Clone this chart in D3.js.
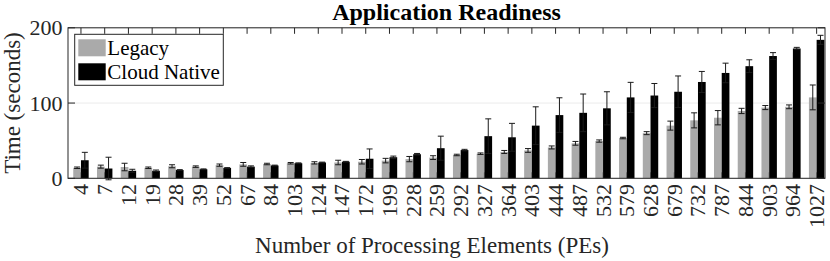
<!DOCTYPE html>
<html>
<head>
<meta charset="utf-8">
<script src="https://cdn.jsdelivr.net/npm/d3@7"></script>
<style>
  html, body { margin: 0; padding: 0; background: #fff; }
  svg { display: block; font-family: "Liberation Serif", "Times New Roman", serif; }
</style>
</head>
<body>
<svg id="chart" width="830" height="261"></svg>
<script>
const categories = [4,7,12,19,28,39,52,67,84,103,124,147,172,199,228,259,292,327,364,403,444,487,532,579,628,679,732,787,844,903,964,1027];
const seriesNames = ["Legacy", "Cloud Native"];
const legacy    = [14, 15.5, 15, 14, 16, 15.5, 17.5, 18.5, 19, 20, 20.5, 21, 22, 23.5, 25.5, 27.5, 31, 32.7, 35, 37, 41, 46.5, 49.5, 53.5, 60, 70, 77, 80.5, 89.5, 94, 95, 107.5];
const legacyErr = [1, 2, 5, 1, 2, 1, 1.5, 2.5, 1, 1, 1.5, 3, 3, 3, 3.5, 2.5, 1, 1, 2, 2.5, 2, 2.5, 1.5, 1, 2, 6, 10, 9.5, 3.5, 2.7, 2.5, 16.5];
const native    = [24, 13, 10, 10, 11, 12, 13.7, 15.5, 17, 20, 21, 22, 26, 28, 32, 40, 37.5, 56, 54.5, 70, 84, 87, 93, 107.5, 110, 115, 128, 140, 149, 162.5, 172.5, 184];
const nativeErr = [10.5, 15, 2, 1, 0.5, 0.5, 0.5, 1, 0.5, 0.5, 0.5, 0.5, 13, 1.5, 1, 16, 1, 23, 18.5, 25, 23, 25, 22, 20, 16, 21, 14, 13, 8.5, 4.5, 1.5, 6];
const yTicks = [0, 100, 200];
const colors = {"Legacy": "#aaaaaa", "Cloud Native": "#000000"};

const svg = d3.select("#chart");
const frame = {left: 68, right: 825, top: 27.8, bottom: 178.3};
const axisColor = "#262626";

const x = d3.scaleBand().domain(categories).range([69.1, 828.5]).padding(0);
const xSub = d3.scaleBand().domain(seriesNames)
  .range([x.bandwidth() * 0.175, x.bandwidth() * 0.825]).padding(0);
const y = d3.scaleLinear().domain([0, 200]).range([frame.bottom, frame.top]);

const rows = categories.map((c, i) => ({
  cat: c,
  values: [
    {name: "Legacy", v: legacy[i], e: legacyErr[i]},
    {name: "Cloud Native", v: native[i], e: nativeErr[i]}
  ]
}));

// grid
svg.append("g").selectAll("line").data(yTicks).join("line")
  .attr("x1", frame.left).attr("x2", frame.right)
  .attr("y1", d => y(d)).attr("y2", d => y(d))
  .attr("stroke", "#ebebeb").attr("stroke-width", 1);

// bars
const groups = svg.append("g").selectAll("g").data(rows).join("g")
  .attr("transform", d => `translate(${x(d.cat)},0)`);
groups.selectAll("rect").data(d => d.values).join("rect")
  .attr("x", d => xSub(d.name))
  .attr("width", xSub.bandwidth())
  .attr("y", d => y(d.v))
  .attr("height", d => y(0) - y(d.v))
  .attr("fill", d => colors[d.name]);

// error bars
const eb = groups.selectAll("g.err").data(d => d.values).join("g").attr("class", "err")
  .attr("transform", d => `translate(${xSub(d.name) + xSub.bandwidth() / 2},0)`);
eb.append("line")
  .attr("x1", 0).attr("x2", 0)
  .attr("y1", d => y(d.v - d.e)).attr("y2", d => y(d.v + d.e))
  .attr("stroke", "#1a1a1a").attr("stroke-width", 1);
eb.append("line")
  .attr("x1", -3).attr("x2", 3)
  .attr("y1", d => y(d.v + d.e)).attr("y2", d => y(d.v + d.e))
  .attr("stroke", "#1a1a1a").attr("stroke-width", 1);
eb.append("line")
  .attr("x1", -3).attr("x2", 3)
  .attr("y1", d => y(d.v - d.e)).attr("y2", d => y(d.v - d.e))
  .attr("stroke", "#1a1a1a").attr("stroke-width", 1);

// frame
svg.append("rect")
  .attr("x", frame.left).attr("y", frame.top)
  .attr("width", frame.right - frame.left).attr("height", frame.bottom - frame.top)
  .attr("fill", "none").attr("stroke", axisColor).attr("stroke-width", 1);

// top & bottom ticks
svg.append("g").selectAll("line").data(categories).join("line")
  .attr("x1", c => x(c) + x.bandwidth() / 2).attr("x2", c => x(c) + x.bandwidth() / 2)
  .attr("y1", frame.top).attr("y2", frame.top + 6)
  .attr("stroke", axisColor);
svg.append("g").selectAll("line").data(categories).join("line")
  .attr("x1", c => x(c) + x.bandwidth() / 2).attr("x2", c => x(c) + x.bandwidth() / 2)
  .attr("y1", frame.bottom).attr("y2", frame.bottom - 6)
  .attr("stroke", axisColor).attr("stroke-opacity", 0.5);

// left & right ticks
svg.append("g").selectAll("line").data(yTicks).join("line")
  .attr("x1", frame.left).attr("x2", frame.left + 7)
  .attr("y1", d => y(d)).attr("y2", d => y(d)).attr("stroke", axisColor);
svg.append("g").selectAll("line").data(yTicks).join("line")
  .attr("x1", frame.right).attr("x2", frame.right - 7)
  .attr("y1", d => y(d)).attr("y2", d => y(d)).attr("stroke", axisColor);

// y tick labels
svg.append("g").selectAll("text").data(yTicks).join("text")
  .attr("x", 62.5).attr("y", d => y(d)).attr("dy", "0.34em")
  .attr("text-anchor", "end").attr("font-size", 22).attr("fill", axisColor)
  .text(d => d);

// x tick labels (rotated)
svg.append("g").selectAll("text").data(categories).join("text")
  .attr("transform", c => `translate(${x(c) + x.bandwidth() / 2},184) rotate(-90)`)
  .attr("dy", "0.34em")
  .attr("text-anchor", "end").attr("font-size", 22).attr("fill", axisColor)
  .text(c => c);

// axis titles
svg.append("text")
  .attr("x", 432).attr("y", 253)
  .attr("text-anchor", "middle").attr("font-size", 23).attr("fill", axisColor)
  .text("Number of Processing Elements (PEs)");
svg.append("text")
  .attr("transform", `translate(20,${(frame.top + frame.bottom) / 2}) rotate(-90)`)
  .attr("text-anchor", "middle").attr("font-size", 23).attr("fill", axisColor)
  .text("Time (seconds)");
svg.append("text")
  .attr("x", (frame.left + frame.right) / 2).attr("y", 20)
  .attr("text-anchor", "middle").attr("font-size", 24).attr("font-weight", "bold")
  .attr("fill", "#000")
  .text("Application Readiness");

// legend
const lg = svg.append("g");
lg.append("rect").attr("x", 74.7).attr("y", 34.3).attr("width", 148.6).attr("height", 51)
  .attr("fill", "#fff").attr("stroke", axisColor).attr("stroke-width", 1);
const items = lg.selectAll("g").data(seriesNames).join("g")
  .attr("transform", (d, i) => `translate(78.3,${39.3 + i * 24})`);
items.append("rect").attr("width", 27.4).attr("height", 17).attr("fill", d => colors[d]);
items.append("text").attr("x", 29).attr("y", 8.5).attr("dy", "0.34em")
  .attr("font-size", 21).attr("fill", "#000").text(d => d);
</script>
</body>
</html>
